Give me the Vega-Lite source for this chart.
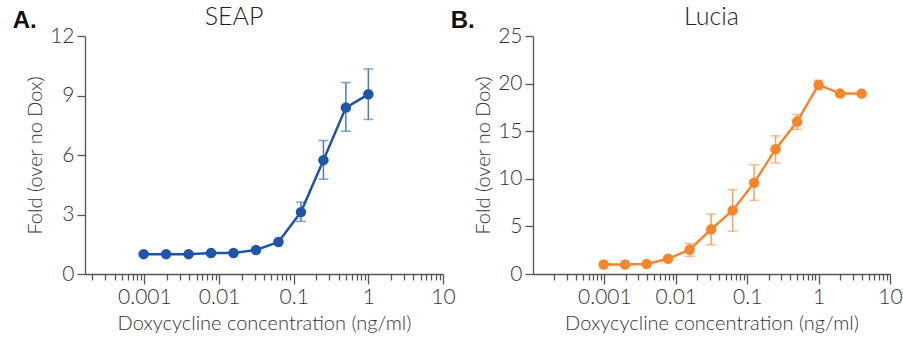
{
  "$schema": "https://vega.github.io/schema/vega-lite/v6.json",
  "background": "white",
  "padding": {"left": 12, "top": 5, "right": 5, "bottom": 0},
  "datasets": {
    "seap": [
      {"conc": 0.0009765625, "fold": 1.0, "lo": null, "hi": null},
      {"conc": 0.001953125, "fold": 1.0, "lo": null, "hi": null},
      {"conc": 0.00390625, "fold": 1.0, "lo": null, "hi": null},
      {"conc": 0.0078125, "fold": 1.06, "lo": null, "hi": null},
      {"conc": 0.015625, "fold": 1.06, "lo": null, "hi": null},
      {"conc": 0.03125, "fold": 1.21, "lo": null, "hi": null},
      {"conc": 0.0625, "fold": 1.61, "lo": null, "hi": null},
      {"conc": 0.125, "fold": 3.12, "lo": 2.65, "hi": 3.62},
      {"conc": 0.25, "fold": 5.74, "lo": 4.78, "hi": 6.73},
      {"conc": 0.5, "fold": 8.39, "lo": 7.2, "hi": 9.65},
      {"conc": 1, "fold": 9.06, "lo": 7.79, "hi": 10.34}
    ],
    "lucia": [
      {"conc": 0.0009765625, "fold": 1.0, "lo": null, "hi": null},
      {"conc": 0.001953125, "fold": 1.0, "lo": null, "hi": null},
      {"conc": 0.00390625, "fold": 1.05, "lo": null, "hi": null},
      {"conc": 0.0078125, "fold": 1.6, "lo": null, "hi": null},
      {"conc": 0.015625, "fold": 2.55, "lo": 1.85, "hi": 3.2},
      {"conc": 0.03125, "fold": 4.69, "lo": 3.08, "hi": 6.3},
      {"conc": 0.0625, "fold": 6.68, "lo": 4.5, "hi": 8.85},
      {"conc": 0.125, "fold": 9.58, "lo": 7.73, "hi": 11.47},
      {"conc": 0.25, "fold": 13.11, "lo": 11.68, "hi": 14.51},
      {"conc": 0.5, "fold": 16.01, "lo": 15.2, "hi": 16.75},
      {"conc": 1, "fold": 19.86, "lo": 19.37, "hi": 20.35},
      {"conc": 2, "fold": 18.95, "lo": null, "hi": null},
      {"conc": 4, "fold": 18.95, "lo": null, "hi": null}
    ]
  },
  "config": {
    "font": "Lato",
    "view": {"stroke": null},
    "axis": {
      "grid": false,
      "domainColor": "#555555",
      "domainWidth": 1.3,
      "tickColor": "#555555",
      "tickWidth": 1.3,
      "labelColor": "#333333",
      "titleColor": "#333333",
      "labelFont": "Lato",
      "titleFont": "Lato",
      "labelFontSize": 21,
      "titleFontSize": 20,
      "labelFontWeight": 300,
      "titleFontWeight": 300
    },
    "title": {"font": "Lato", "fontWeight": 300, "fontSize": 25, "color": "#222222"},
    "concat": {"spacing": 20}
  },
  "spacing": -6,
  "hconcat": [
    {
      "title": {"text": "A.", "anchor": "start", "font": "Liberation Sans", "fontWeight": "bold", "fontSize": 24, "color": "#111111", "offset": -28, "dx": -13},
      "vconcat": [
        {
          "title": {"text": "SEAP", "anchor": "middle", "frame": "group", "dx": -30, "offset": -5},
          "width": 358,
          "height": 238,
          "data": {"name": "seap"},
          "encoding": {
            "x": {
              "field": "conc", "type": "quantitative",
              "scale": {"type": "log", "domain": [0.00016, 10], "nice": false},
              "axis": {
                "title": "Doxycycline concentration (ng/ml)",
                "values": [0.0002,0.0003,0.0004,0.0005,0.0006,0.0007,0.0008,0.0009,0.001,0.002,0.003,0.004,0.005,0.006,0.007,0.008,0.009,0.01,0.02,0.03,0.04,0.05,0.06,0.07,0.08,0.09,0.1,0.2,0.3,0.4,0.5,0.6,0.7,0.8,0.9,1,2,3,4,5,6,7,8,9,10],
                "format": "~g",
                "labelExpr": "indexof(['0.001','0.01','0.1','1','10'], datum.label) >= 0 ? datum.label : ''",
                "tickSize": {"condition": {"test": "indexof([0.001,0.01,0.1,1,10], datum.value) >= 0", "value": 10}, "value": 6},
                "labelOverlap": false,
                "labelFlush": false,
                "labelPadding": 2,
                "titlePadding": 6
              }
            },
            "y": {
              "field": "fold", "type": "quantitative",
              "scale": {"domain": [0, 12], "nice": false},
              "axis": {"title": "Fold (over no Dox)", "values": [0, 3, 6, 9, 12], "tickSize": 8, "labelPadding": 3, "titlePadding": 4}
            }
          },
          "layer": [
            {
              "transform": [{"filter": "datum.lo != null"}],
              "mark": {"type": "errorbar", "ticks": {"size": 10}, "color": "#4a79c2", "thickness": 1.5},
              "encoding": {
                "y": {"field": "lo", "type": "quantitative", "title": "Fold (over no Dox)"},
                "y2": {"field": "hi"}
              }
            },
            {
              "mark": {"type": "line", "color": "#1d55a8", "strokeWidth": 2.5, "point": {"filled": true, "size": 110, "color": "#1d55a8"}}
            }
          ]
        }
      ]
    },
    {
      "title": {"text": "B.", "anchor": "start", "font": "Liberation Sans", "fontWeight": "bold", "fontSize": 24, "color": "#111111", "offset": -28, "dx": -23},
      "vconcat": [
        {
          "title": {"text": "Lucia", "anchor": "middle", "frame": "group", "offset": -5},
          "width": 357,
          "height": 238,
          "data": {"name": "lucia"},
          "encoding": {
            "x": {
              "field": "conc", "type": "quantitative",
              "scale": {"type": "log", "domain": [0.0001, 10], "nice": false},
              "axis": {
                "title": "Doxycycline concentration (ng/ml)",
                "values": [0.0002,0.0003,0.0004,0.0005,0.0006,0.0007,0.0008,0.0009,0.001,0.002,0.003,0.004,0.005,0.006,0.007,0.008,0.009,0.01,0.02,0.03,0.04,0.05,0.06,0.07,0.08,0.09,0.1,0.2,0.3,0.4,0.5,0.6,0.7,0.8,0.9,1,2,3,4,5,6,7,8,9,10],
                "format": "~g",
                "labelExpr": "indexof(['0.001','0.01','0.1','1','10'], datum.label) >= 0 ? datum.label : ''",
                "tickSize": {"condition": {"test": "indexof([0.001,0.01,0.1,1,10], datum.value) >= 0", "value": 10}, "value": 6},
                "labelOverlap": false,
                "labelFlush": false,
                "labelPadding": 2,
                "titlePadding": 6
              }
            },
            "y": {
              "field": "fold", "type": "quantitative",
              "scale": {"domain": [0, 25], "nice": false},
              "axis": {"title": "Fold (over no Dox)", "values": [0, 5, 10, 15, 20, 25], "tickSize": 8, "labelPadding": 3, "titlePadding": 4}
            }
          },
          "layer": [
            {
              "transform": [{"filter": "datum.lo != null"}],
              "mark": {"type": "errorbar", "ticks": {"size": 10}, "color": "#f7a05a", "thickness": 1.5},
              "encoding": {
                "y": {"field": "lo", "type": "quantitative", "title": "Fold (over no Dox)"},
                "y2": {"field": "hi"}
              }
            },
            {
              "mark": {"type": "line", "color": "#f5862c", "strokeWidth": 2.5, "point": {"filled": true, "size": 110, "color": "#f5862c"}}
            }
          ]
        }
      ]
    }
  ]
}
